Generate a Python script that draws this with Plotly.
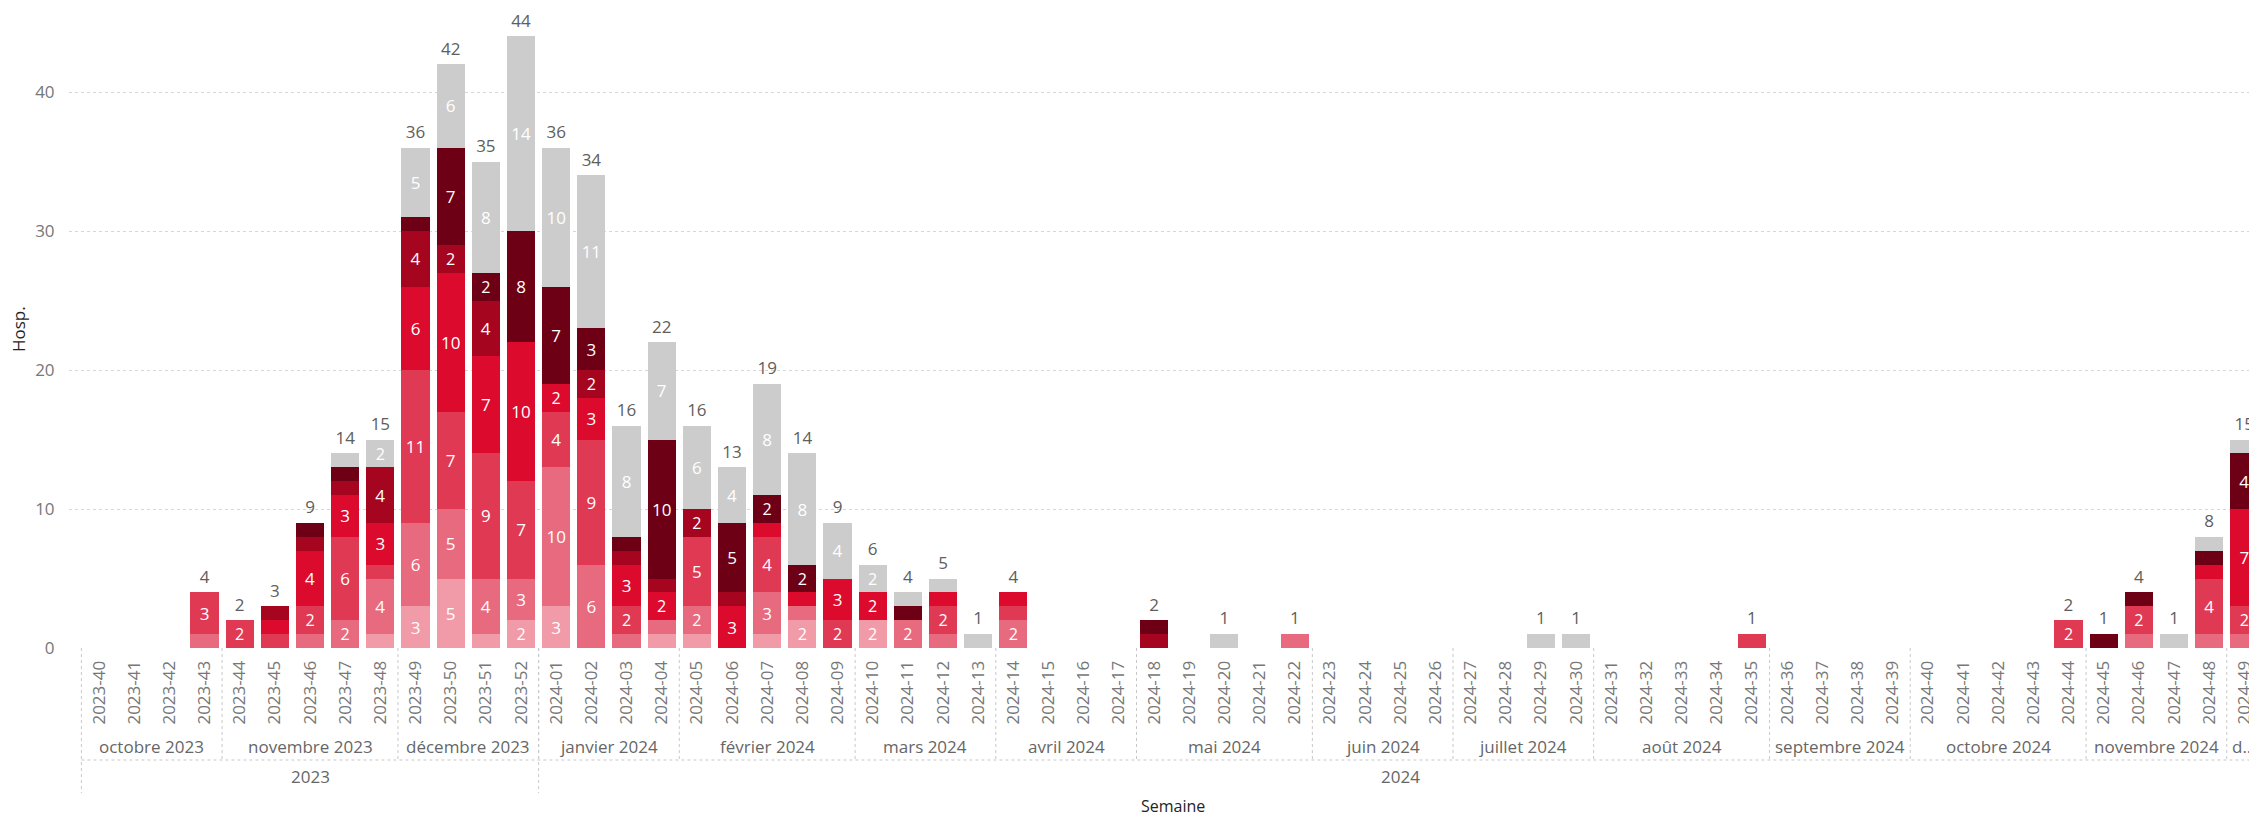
import plotly.graph_objects as go

weeks = ["2023-40", "2023-41", "2023-42", "2023-43", "2023-44", "2023-45", "2023-46", "2023-47",
         "2023-48", "2023-49", "2023-50", "2023-51", "2023-52",
         "2024-01", "2024-02", "2024-03", "2024-04", "2024-05", "2024-06", "2024-07", "2024-08",
         "2024-09", "2024-10", "2024-11", "2024-12", "2024-13", "2024-14", "2024-15", "2024-16",
         "2024-17", "2024-18", "2024-19", "2024-20", "2024-21", "2024-22", "2024-23", "2024-24",
         "2024-25", "2024-26", "2024-27", "2024-28", "2024-29", "2024-30", "2024-31", "2024-32",
         "2024-33", "2024-34", "2024-35", "2024-36", "2024-37", "2024-38", "2024-39", "2024-40",
         "2024-41", "2024-42", "2024-43", "2024-44", "2024-45", "2024-46", "2024-47", "2024-48",
         "2024-49"]

#          2023: 40 41 42 43 44 45 46 47 48 49 50 51 52 | 2024: 01 ... 49
s1 = [0, 0, 0, 0, 0, 0, 0, 0, 1, 3, 5, 1, 2,
      3, 0, 0, 1, 1, 0, 1, 2, 0, 2, 0, 0, 0, 0, 0, 0, 0, 0, 0, 0, 0, 0, 0, 0, 0, 0, 0, 0,
      0, 0, 0, 0, 0, 0, 0, 0, 0, 0, 0, 0, 0, 0, 0, 0, 0, 0, 0, 0, 0]
s2 = [0, 0, 0, 1, 0, 0, 1, 2, 4, 6, 5, 4, 3,
      10, 6, 1, 1, 2, 0, 3, 1, 0, 0, 2, 1, 0, 2, 0, 0, 0, 0, 0, 0, 0, 1, 0, 0, 0, 0, 0, 0,
      0, 0, 0, 0, 0, 0, 0, 0, 0, 0, 0, 0, 0, 0, 0, 0, 0, 1, 0, 1, 1]
s3 = [0, 0, 0, 3, 2, 1, 2, 6, 1, 11, 7, 9, 7,
      4, 9, 2, 0, 5, 0, 4, 0, 2, 0, 0, 2, 0, 1, 0, 0, 0, 0, 0, 0, 0, 0, 0, 0, 0, 0, 0, 0,
      0, 0, 0, 0, 0, 0, 1, 0, 0, 0, 0, 0, 0, 0, 0, 2, 0, 2, 0, 4, 2]
s4 = [0, 0, 0, 0, 0, 1, 4, 3, 3, 6, 10, 7, 10,
      2, 3, 3, 2, 0, 3, 1, 1, 3, 2, 0, 1, 0, 1, 0, 0, 0, 0, 0, 0, 0, 0, 0, 0, 0, 0, 0, 0,
      0, 0, 0, 0, 0, 0, 0, 0, 0, 0, 0, 0, 0, 0, 0, 0, 0, 0, 0, 1, 7]
s5 = [0, 0, 0, 0, 0, 1, 1, 1, 4, 4, 2, 4, 0,
      0, 2, 1, 1, 2, 1, 0, 0, 0, 0, 0, 0, 0, 0, 0, 0, 0, 1, 0, 0, 0, 0, 0, 0, 0, 0, 0, 0,
      0, 0, 0, 0, 0, 0, 0, 0, 0, 0, 0, 0, 0, 0, 0, 0, 0, 0, 0, 0, 0]
s6 = [0, 0, 0, 0, 0, 0, 1, 1, 0, 1, 7, 2, 8,
      7, 3, 1, 10, 0, 5, 2, 2, 0, 0, 1, 0, 0, 0, 0, 0, 0, 1, 0, 0, 0, 0, 0, 0, 0, 0, 0, 0,
      0, 0, 0, 0, 0, 0, 0, 0, 0, 0, 0, 0, 0, 0, 0, 0, 1, 1, 0, 1, 4]
s7 = [0, 0, 0, 0, 0, 0, 0, 1, 2, 5, 6, 8, 14,
      10, 11, 8, 7, 6, 4, 8, 8, 4, 2, 1, 1, 1, 0, 0, 0, 0, 0, 0, 1, 0, 0, 0, 0, 0, 0, 0, 0,
      1, 1, 0, 0, 0, 0, 0, 0, 0, 0, 0, 0, 0, 0, 0, 0, 0, 0, 1, 1, 1]

series = [s1, s2, s3, s4, s5, s6, s7]
series_names = ["Groupe 1", "Groupe 2", "Groupe 3", "Groupe 4", "Groupe 5", "Groupe 6", "Groupe 7"]
colors = ["#F19BA8", "#E86A7E", "#E03953", "#DC0A2D", "#A60520", "#6E0016", "#CCCCCC"]

months = ["octobre 2023", "novembre 2023", "décembre 2023", "janvier 2024", "février 2024",
          "mars 2024", "avril 2024", "mai 2024", "juin 2024", "juillet 2024", "août 2024",
          "septembre 2024", "octobre 2024", "novembre 2024", "d..."]
month_weeks = [4, 5, 4, 4, 5, 4, 4, 5, 4, 4, 5, 4, 5, 4, 1]
years = ["2023", "2024"]
year_weeks = [13, 49]

FONT = "Segoe UI, Open Sans, sans-serif"

fig = go.Figure()
for vals, name, col in zip(series, series_names, colors):
    fig.add_trace(go.Bar(
        x=weeks, y=vals, name=name, marker=dict(color=col, line=dict(width=0)),
        text=[str(v) if v >= 2 else "" for v in vals],
        textposition="inside", insidetextanchor="middle", textangle=0,
        textfont=dict(color="white", size=17, family=FONT),
    ))

totals = [sum(t) for t in zip(*series)]
fig.add_trace(go.Scatter(
    x=weeks, y=totals, mode="markers+text",
    marker=dict(size=7, color="rgba(0,0,0,0)"),
    text=[str(t) if t > 0 else "" for t in totals],
    textposition="top center",
    textfont=dict(color="#605E5C", size=17, family=FONT),
    cliponaxis=False, showlegend=False, hoverinfo="skip",
))

# The page body has an 8 px margin: the figure is drawn 8 px in from the window edge.
OFF = 8
W, H = 2257 - OFF, 819 - OFF
T, B, L = 10 - OFF, 171, 69 - OFF
PH = H - T - B            # plot height in px
Y0 = OFF + T + PH         # window y of the value 0
PL = OFF + L              # window x of plot left


def py(Y):
    return (Y0 - Y) / PH


def px(X):
    return (X - PL) / (W - L)


shapes = []
annotations = []
n = len(weeks)
dot = dict(color="#C8C8C8", width=1, dash="dot")
pos = -0.5
shapes.append(dict(type="line", xref="x", yref="paper", x0=-0.5, x1=-0.5, y0=0, y1=py(793), line=dot))
for name, cnt in zip(months, month_weeks):
    end = pos + cnt
    annotations.append(dict(x=pos + cnt / 2, y=py(746), xref="x", yref="paper", text=name,
                            showarrow=False, xanchor="center", yanchor="middle",
                            font=dict(size=17, color="#666666", family=FONT)))
    if end < n - 0.5:
        shapes.append(dict(type="line", xref="x", yref="paper", x0=end, x1=end, y0=0, y1=py(760), line=dot))
    pos = end
pos = -0.5
for name, cnt in zip(years, year_weeks):
    end = pos + cnt
    annotations.append(dict(x=pos + cnt / 2, y=py(776), xref="x", yref="paper", text=name,
                            showarrow=False, xanchor="center", yanchor="middle",
                            font=dict(size=17, color="#666666", family=FONT)))
    if end < n - 0.5:
        shapes.append(dict(type="line", xref="x", yref="paper", x0=end, x1=end, y0=0, y1=py(793), line=dot))
    pos = end
shapes.append(dict(type="line", xref="x", yref="paper", x0=-0.5, x1=n + 1, y0=py(760), y1=py(760), line=dot))

annotations.append(dict(x=px(1173), y=py(806), xref="paper", yref="paper", text="Semaine",
                        showarrow=False, xanchor="center", yanchor="middle",
                        font=dict(size=16, color="#252423", family=FONT)))
annotations.append(dict(x=px(18), y=0.5, xref="paper", yref="paper", text="Hosp.",
                        showarrow=False, xanchor="center", yanchor="middle", textangle=-90,
                        font=dict(size=17, color="#252423", family=FONT)))

fig.update_layout(
    barmode="stack", bargap=0.2, showlegend=False,
    width=W, height=H,
    margin=dict(l=L, r=0, t=T, b=B, pad=0),
    paper_bgcolor="white", plot_bgcolor="white",
    font=dict(family=FONT),
    shapes=shapes, annotations=annotations,
    xaxis=dict(type="category", range=[-0.853, 61.36], tickangle=-90, automargin=False,
               tickfont=dict(size=17, color="#777777", family=FONT),
               showgrid=False, zeroline=False, showline=False,
               ticks="outside", ticklen=5, tickcolor="rgba(0,0,0,0)"),
    yaxis=dict(range=[0, PH / 13.9], tickvals=[0, 10, 20, 30, 40], automargin=False,
               tickfont=dict(size=17, color="#777777", family=FONT),
               showgrid=True, gridcolor="#D6D6D6", griddash="dot", gridwidth=1,
               zeroline=False, showline=False,
               ticks="outside", ticklen=10, tickcolor="rgba(0,0,0,0)"),
)

fig.write_html("out.html")
